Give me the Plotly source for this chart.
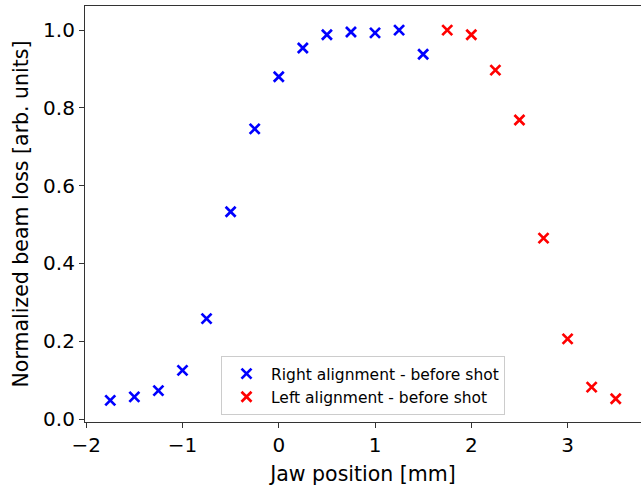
import plotly.graph_objects as go

right_x = [-1.75, -1.5, -1.25, -1.0, -0.75, -0.5, -0.25, 0.0, 0.25, 0.5, 0.75, 1.0, 1.25, 1.5]
right_y = [0.048, 0.057, 0.073, 0.125, 0.258, 0.533, 0.746, 0.880, 0.954, 0.988, 0.995, 0.993, 1.0, 0.938]
left_x = [1.75, 2.0, 2.25, 2.5, 2.75, 3.0, 3.25, 3.5]
left_y = [1.0, 0.988, 0.897, 0.769, 0.465, 0.206, 0.082, 0.052]

right_name = "Right alignment - before shot"
left_name = "Left alignment - before shot"

FONT = "DejaVu Sans"
AX = "#333333"

fig = go.Figure()
for xs, ys, name, col in [(right_x, right_y, right_name, "blue"), (left_x, left_y, left_name, "red")]:
    fig.add_trace(go.Scatter(
        x=xs, y=ys, mode="markers", name=name,
        marker=dict(symbol="x-thin", size=10, color=col, line=dict(width=2.7, color=col)),
    ))

fig.update_layout(
    width=641, height=491,
    margin=dict(l=85, r=0, t=6, b=69),
    paper_bgcolor="white", plot_bgcolor="white",
    font=dict(family=FONT, color="black", size=20),
    showlegend=True,
    legend=dict(
        x=0.2446, y=0.0168, xanchor="left", yanchor="bottom",
        bgcolor="white", bordercolor="#cccccc", borderwidth=1,
        font=dict(family=FONT, size=15.5, color="black"),
        itemwidth=39, tracegroupgap=0,
    ),
    xaxis=dict(
        range=[-2.0125, 3.7625],
        tickmode="array", tickvals=[-2, -1, 0, 1, 2, 3],
        showgrid=False, zeroline=False,
        showline=True, linecolor=AX, linewidth=1.2, mirror=True,
        ticks="outside", ticklen=5, tickwidth=1.2, tickcolor=AX,
        tickfont=dict(family=FONT, size=20),
        title=dict(text="Jaw position [mm]", font=dict(family=FONT, size=20.5), standoff=10),
    ),
    yaxis=dict(
        range=[-0.0077, 1.062],
        tickmode="array", tickvals=[0, 0.2, 0.4, 0.6, 0.8, 1.0],
        tickformat=".1f",
        showgrid=False, zeroline=False,
        showline=True, linecolor=AX, linewidth=1.2, mirror=False,
        ticks="outside", ticklen=5, tickwidth=1.2, tickcolor=AX,
        tickfont=dict(family=FONT, size=20),
        title=dict(text="Normalized beam loss [arb. units]", font=dict(family=FONT, size=20.5), standoff=8),
    ),
)

fig.write_html("out.html")
